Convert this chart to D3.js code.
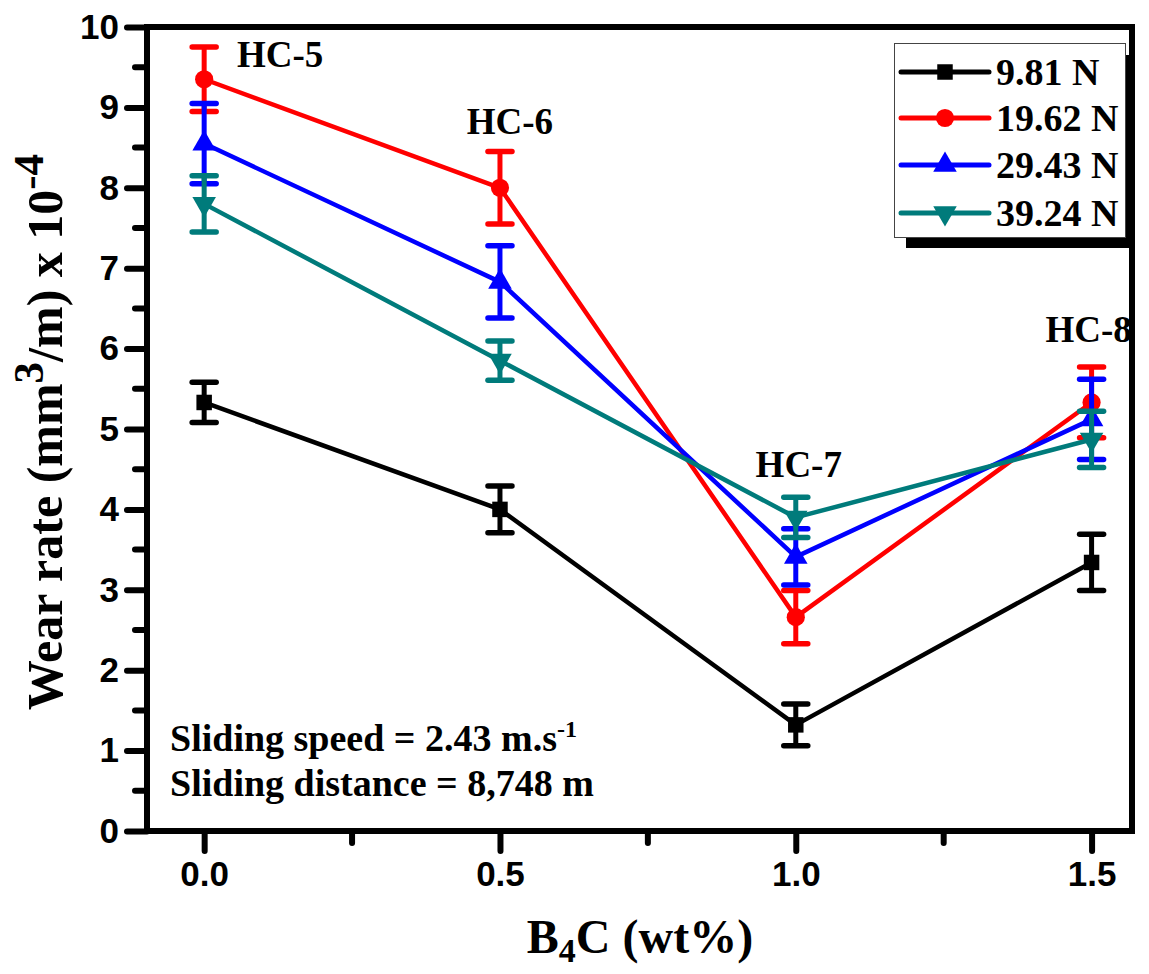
<!DOCTYPE html>
<html>
<head>
<meta charset="utf-8">
<script src="https://cdn.jsdelivr.net/npm/d3@7"></script>
<style>
  html, body { margin: 0; padding: 0; background: #fff; }
  svg { display: block; }
</style>
</head>
<body>
<svg id="chart" width="1149" height="974"></svg>
<script>
// ---------- data ----------
const xValues = [0.0, 0.5, 1.0, 1.5];
const seriesNames = ["9.81 N", "19.62 N", "29.43 N", "39.24 N"];
const seriesColors = ["#000000", "#ff0000", "#0000ff", "#007b7b"];
const seriesSymbols = ["square", "circle", "triangle", "triangleDown"];
const wear981 = [5.33, 4.00, 1.32, 3.34];
const err981 = [0.25, 0.29, 0.26, 0.35];
const wear1962 = [9.35, 8.00, 2.66, 5.33];
const err1962 = [0.40, 0.45, 0.33, 0.44];
const wear2943 = [8.55, 6.83, 3.41, 5.12];
const err2943 = [0.50, 0.45, 0.35, 0.50];
const wear3924 = [7.80, 5.85, 3.90, 4.87];
const err3924 = [0.35, 0.245, 0.25, 0.35];
const xTicks = [0.0, 0.5, 1.0, 1.5];
const yTicks = [0, 1, 2, 3, 4, 5, 6, 7, 8, 9, 10];
const sampleLabels = ["HC-5", "HC-6", "HC-7", "HC-8"];

const seriesValues = [wear981, wear1962, wear2943, wear3924];
const seriesErrors = [err981, err1962, err2943, err3924];

// ---------- layout ----------
const svg = d3.select("#chart");
const L = 147, R = 1132, T = 27, B = 831;
const x = d3.scaleLinear().domain([-0.1, 1.57]).range([145, 1133]);
const y = d3.scaleLinear().domain([0, 10]).range([B, T]);

const tickFont = "'Liberation Sans', Arial, sans-serif";
const serif = "'Liberation Serif', 'Times New Roman', serif";

// ---------- axes ----------
const yAxis = d3.axisLeft(y).tickValues(yTicks).tickSize(20).tickPadding(8).tickFormat(d3.format("d"));
const gy = svg.append("g").attr("transform", `translate(${L},0)`).call(yAxis);
const xAxis = d3.axisBottom(x).tickValues(xTicks).tickSize(20).tickPadding(10).tickFormat(d3.format(".1f"));
const gx = svg.append("g").attr("transform", `translate(0,${B})`).call(xAxis);

[gx, gy].forEach(g => {
  g.select(".domain").remove();
  g.selectAll(".tick line").style("stroke", "#000").style("stroke-width", "6px").style("stroke-linecap", "round");
  g.selectAll(".tick text").style("fill", "#000").style("font-family", tickFont)
    .style("font-weight", "bold").style("font-size", "35px");
});

// minor ticks
const yMinor = d3.range(0.5, 10, 1);
svg.append("g").selectAll("line").data(yMinor).join("line")
  .attr("x1", L).attr("x2", L - 12).attr("y1", d => y(d)).attr("y2", d => y(d))
  .style("stroke", "#000").style("stroke-width", "6px").style("stroke-linecap", "round");
const xMinor = [0.25, 0.75, 1.25];
svg.append("g").selectAll("line").data(xMinor).join("line")
  .attr("y1", B).attr("y2", B + 12).attr("x1", d => x(d)).attr("x2", d => x(d))
  .style("stroke", "#000").style("stroke-width", "6px").style("stroke-linecap", "round");

// frame
svg.append("rect").attr("x", L).attr("y", T).attr("width", R - L).attr("height", B - T)
  .attr("fill", "none").attr("stroke", "#000").attr("stroke-width", 6);

// ---------- series ----------
const symbolTypes = {
  square: d3.symbolSquare, circle: d3.symbolCircle,
  triangle: d3.symbolTriangle, triangleDown: d3.symbolTriangle
};
function drawSymbol(g, type, cx, cy, color) {
  const sizes = { square: 240, circle: 260, triangle: 240, triangleDown: 240 };
  const rot = type === "triangleDown" ? 180 : 0;
  g.append("path")
    .attr("d", d3.symbol().type(symbolTypes[type]).size(sizes[type])())
    .attr("transform", `translate(${cx},${cy}) rotate(${rot})`)
    .attr("fill", color);
}

const line = d3.line().x(d => x(d[0])).y(d => y(d[1]));
seriesValues.forEach((vals, si) => {
  const color = seriesColors[si];
  const g = svg.append("g");
  const pts = xValues.map((xv, i) => [xv, vals[i]]);
  g.append("path").attr("d", line(pts)).attr("fill", "none")
    .attr("stroke", color).attr("stroke-width", 4.5).attr("stroke-linejoin", "round");
  pts.forEach((p, i) => {
    const e = seriesErrors[si][i];
    const cx = x(p[0]);
    g.append("line").attr("x1", cx).attr("x2", cx).attr("y1", y(p[1] - e)).attr("y2", y(p[1] + e))
      .attr("stroke", color).attr("stroke-width", 5);
    [p[1] - e, p[1] + e].forEach(v => {
      g.append("line").attr("x1", cx - 12).attr("x2", cx + 12).attr("y1", y(v)).attr("y2", y(v))
        .attr("stroke", color).attr("stroke-width", 5.5).attr("stroke-linecap", "round");
    });
    drawSymbol(g, seriesSymbols[si], cx, y(p[1]), color);
  });
});

// ---------- annotations ----------
const labelPos = [[0.0, 9.50], [0.5, 8.67], [1.0, 4.40], [1.5, 6.08]];
const labelDx = [76, 10, 3, -3];
sampleLabels.forEach((t, i) => {
  svg.append("text").attr("x", x(labelPos[i][0]) + labelDx[i]).attr("y", y(labelPos[i][1]))
    .attr("text-anchor", "middle").style("font-family", serif).style("font-weight", "bold")
    .style("font-size", "37px").text(t);
});

const info1 = svg.append("text").attr("x", 170).attr("y", 751)
  .style("font-family", serif).style("font-weight", "bold").style("font-size", "38px");
info1.append("tspan").text("Sliding speed = 2.43 m.s");
info1.append("tspan").attr("dy", -14).style("font-size", "24px").text("-1");
svg.append("text").attr("x", 170).attr("y", 796)
  .style("font-family", serif).style("font-weight", "bold").style("font-size", "38px")
  .text("Sliding distance = 8,748 m");

// ---------- axis titles ----------
const xt = svg.append("text").attr("x", 640).attr("y", 953).attr("text-anchor", "middle")
  .style("font-family", serif).style("font-weight", "bold").style("font-size", "48px");
xt.append("tspan").text("B");
xt.append("tspan").attr("dy", 9).style("font-size", "34px").text("4");
xt.append("tspan").attr("dy", -9).text("C (wt%)");

const yt = svg.append("text").attr("transform", "translate(62,432) rotate(-90)").attr("text-anchor", "middle")
  .style("font-family", serif).style("font-weight", "bold").style("font-size", "50px");
yt.append("tspan").text("Wear rate (mm");
yt.append("tspan").attr("dy", -19).style("font-size", "43px").text("3");
yt.append("tspan").attr("dy", 19).text("/m) x 10");
yt.append("tspan").attr("dy", -19).style("font-size", "43px").text("-4");

// ---------- legend ----------
const lg = svg.append("g");
lg.append("rect").attr("x", 906).attr("y", 55).attr("width", 227).attr("height", 193).attr("fill", "#000");
lg.append("rect").attr("x", 894.5).attr("y", 43.5).attr("width", 231).attr("height", 194)
  .attr("fill", "#fff").attr("stroke", "#444").attr("stroke-width", 1);
const rowY = [72, 118, 165, 213];
seriesNames.forEach((n, i) => {
  lg.append("line").attr("x1", 901).attr("x2", 989).attr("y1", rowY[i]).attr("y2", rowY[i])
    .attr("stroke", seriesColors[i]).attr("stroke-width", 5).attr("stroke-linecap", "round");
  drawSymbol(lg, seriesSymbols[i], 945, rowY[i], seriesColors[i]);
  lg.append("text").attr("x", 996).attr("y", rowY[i] + 13)
    .style("font-family", serif).style("font-weight", "bold").style("font-size", "38px").text(n);
});
</script>
</body>
</html>
